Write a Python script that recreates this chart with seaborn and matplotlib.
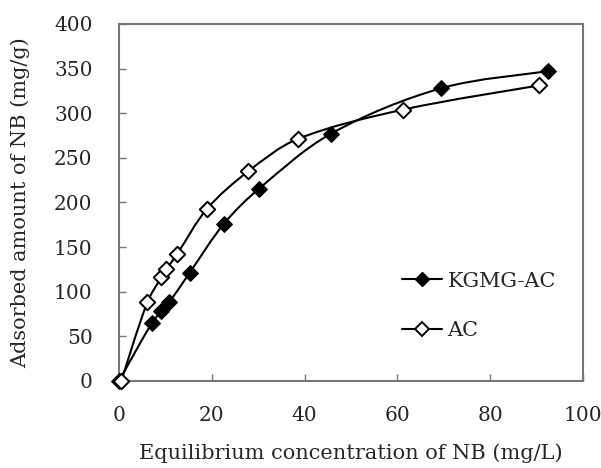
import numpy as np
import pandas as pd
import matplotlib
matplotlib.use("Agg")
import matplotlib.pyplot as plt
from matplotlib.path import Path
from matplotlib.patches import PathPatch
from matplotlib.lines import Line2D
import seaborn as sns

# Data
kgmg_x = [0, 7.1, 9.1, 10.8, 15.2, 22.6, 30.1, 45.7, 69.5, 92.5]
kgmg_y = [0, 65, 78, 88, 121, 176, 215, 277, 328, 347]
ac_x = [0.5, 6.1, 9.1, 10.2, 12.5, 19.0, 27.9, 38.5, 61.3, 90.5]
ac_y = [0, 88, 116, 125, 142, 193, 235, 271, 304, 331]
series_names = ["KGMG-AC", "AC"]
x_ticks = [0, 20, 40, 60, 80, 100]
y_ticks = [0, 50, 100, 150, 200, 250, 300, 350, 400]

sns.set_theme(style="white")
plt.rcParams['font.family'] = ['DejaVu Serif']

fig = plt.figure(figsize=(6.01, 4.68), dpi=100)
ax = fig.add_axes([0.198, 0.186, 0.772, 0.763])

df = pd.concat([
    pd.DataFrame({"x": kgmg_x, "y": kgmg_y, "s": series_names[0]}),
    pd.DataFrame({"x": ac_x, "y": ac_y, "s": series_names[1]}),
])


def smooth_path(xs, ys, sx=4.64, sy=0.8925):
    pts = np.column_stack([xs, ys]).astype(float)
    scale = np.array([sx, sy])
    n = len(pts)

    def d(a, b):
        return np.linalg.norm((a - b) * scale)

    verts = [pts[0]]
    codes = [Path.MOVETO]
    for i in range(n - 1):
        p0 = pts[i - 1] if i > 0 else pts[i]
        p1 = pts[i]
        p2 = pts[i + 1]
        p3 = pts[i + 2] if i + 2 < n else pts[i + 1]
        d01, d12, d23 = d(p0, p1), d(p1, p2), d(p2, p3)
        w1 = d12 / (d01 + d12) if d01 > 0 else 0.5
        w2 = d12 / (d12 + d23) if d23 > 0 else 0.5
        c1 = p1 + (p2 - p0) * w1 / 3.0
        c2 = p2 - (p3 - p1) * w2 / 3.0
        verts += [c1, c2, p2]
        codes += [Path.CURVE4] * 3
    return Path(verts, codes)


for xs, ys in [(kgmg_x, kgmg_y), (ac_x, ac_y)]:
    ax.add_patch(PathPatch(smooth_path(xs, ys), facecolor="none",
                           edgecolor="black", lw=1.5, zorder=2))

sub_k = df[df.s == series_names[0]]
sub_a = df[df.s == series_names[1]]
sns.scatterplot(data=sub_k, x="x", y="y", marker="D", s=62, color="black",
                edgecolor="black", linewidth=1, ax=ax, zorder=3, clip_on=False, legend=False)
sns.scatterplot(data=sub_a, x="x", y="y", marker="D", s=62, color="white",
                edgecolor="black", linewidth=1.4, ax=ax, zorder=3, clip_on=False, legend=False)

ax.set_xlim(0, 100)
ax.set_ylim(0, 400)
ax.set_xticks(x_ticks)
ax.set_yticks(y_ticks)
ax.tick_params(direction="in", length=5, width=1, color="#777777",
               labelsize=14.5, left=True, bottom=True)
ax.tick_params(axis="x", pad=18)
ax.tick_params(axis="y", pad=19)
for sp in ax.spines.values():
    sp.set_color("#777777")
    sp.set_linewidth(1.5)

ax.set_xlabel("Equilibrium concentration of NB (mg/L)", fontsize=15, labelpad=13)
ax.set_ylabel("Adsorbed amount of NB (mg/g)", fontsize=15, labelpad=17)

handles = [
    Line2D([], [], color="black", lw=1.5, marker="D", markersize=7,
           markerfacecolor="black", markeredgecolor="black"),
    Line2D([], [], color="black", lw=1.5, marker="D", markersize=7,
           markerfacecolor="white", markeredgecolor="black", markeredgewidth=1.4),
]
ax.legend(handles, series_names, loc="center left", bbox_to_anchor=(0.570, 0.210),
          frameon=False, fontsize=15, handlelength=1.92, handletextpad=0.25,
          labelspacing=1.46)

fig.savefig("out.png", dpi=100)
